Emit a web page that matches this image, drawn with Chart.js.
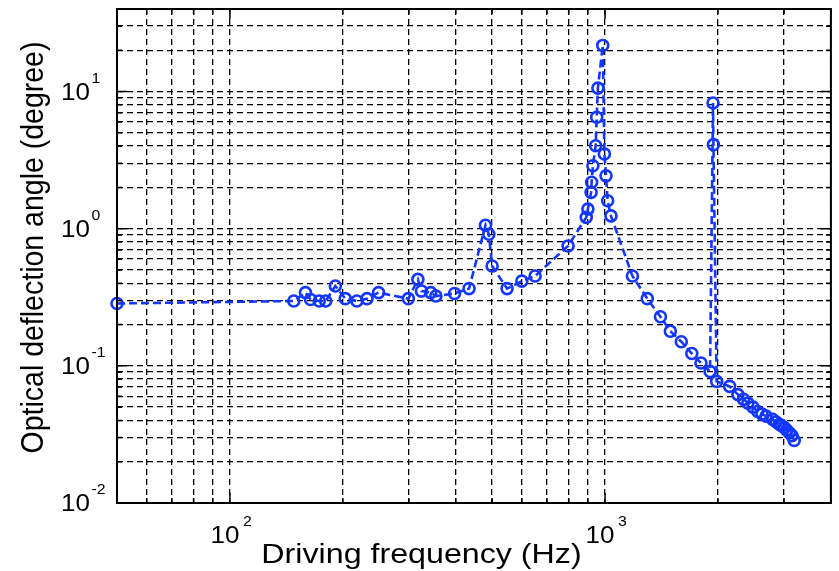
<!DOCTYPE html>
<html>
<head>
<meta charset="utf-8">
<script src="https://cdn.jsdelivr.net/npm/chart.js@4/dist/chart.umd.min.js"></script>
<style>
  html, body { margin: 0; padding: 0; background: #fff; }
  #wrap { width: 839px; height: 571px; position: relative; }
</style>
</head>
<body>
<div id="wrap"><canvas id="chart"></canvas></div>
<script>
// ---- data ----
const freqHz = [50, 148, 159, 164, 173, 180, 191, 203, 218, 232,
  249, 299, 317, 324, 343, 354, 397, 434, 480, 490,
  500, 548, 600, 651, 797, 891, 900, 918, 921, 928,
  944, 950, 957, 986, 996, 1006, 1016, 1037, 1183, 1296,
  1405, 1493, 1597, 1703, 1802, 1905, 1940, 1945, 1984, 2148,
  2261, 2340, 2403, 2480, 2553, 2620, 2686, 2797, 2860, 2915,
  2960, 3005, 3050, 3098, 3150, 3194];
const angleDeg = [0.285, 0.297, 0.342, 0.305, 0.297, 0.297, 0.382, 0.309, 0.297, 0.309,
  0.342, 0.309, 0.427, 0.351, 0.342, 0.323, 0.337, 0.366, 1.06, 0.912,
  0.535, 0.366, 0.415, 0.452, 0.749, 1.21, 1.39, 1.84, 2.18, 2.88,
  4.03, 6.5, 10.6, 21.7, 3.51, 2.43, 1.6, 1.24, 0.452, 0.309,
  0.228, 0.179, 0.150, 0.123, 0.105, 0.091, 8.26, 4.1, 0.077, 0.0709,
  0.0617, 0.057, 0.0535, 0.050, 0.0465, 0.0445, 0.043, 0.0407, 0.039, 0.0375,
  0.0365, 0.0355, 0.034, 0.0325, 0.031, 0.0286];

// axis ranges and labelled decades
const xRange = [50, 4000];
const yRange = [0.01, 40];
const xLabelValues = [100, 1000];
const xLabelExp = ['2', '3'];
const yLabelValues = [0.01, 0.1, 1, 10];
const yLabelExp = ['-2', '-1', '0', '1'];

const xTitle = 'Driving frequency (Hz)';
const yTitle = 'Optical deflection angle (degree)';

// grid lines at every 1..9 x 10^k inside the range
function decadeGrid(lo, hi) {
  const out = [];
  for (let e = Math.floor(Math.log10(lo)); e <= Math.ceil(Math.log10(hi)); e++) {
    for (let m = 1; m <= 9; m++) {
      const v = +(m * Math.pow(10, e)).toPrecision(6);
      if (v >= lo * 0.999 && v <= hi * 1.001) out.push(v);
    }
  }
  return out;
}
const xGrid = decadeGrid(xRange[0], xRange[1]);
const yGrid = decadeGrid(yRange[0], yRange[1]);

const SX = 1.13; // the picture is a bit wider than tall
const FONT = '"Liberation Sans", Arial, sans-serif';
const BLUE = 'rgb(20,55,255)';

function txt(ctx, s, x, y, size, align, rot) {
  ctx.save();
  ctx.translate(x, y);
  ctx.scale(SX, 1);
  if (rot) ctx.rotate(rot);
  ctx.font = size + 'px ' + FONT;
  ctx.textAlign = align;
  ctx.textBaseline = 'alphabetic';
  ctx.fillStyle = '#000';
  ctx.fillText(s, 0, 0);
  ctx.restore();
}

const frame = {
  id: 'frame',
  afterDraw(chart) {
    const { ctx, chartArea: a, scales } = chart;
    const x = scales.x, y = scales.y;
    ctx.save();
    ctx.strokeStyle = '#000';
    ctx.lineWidth = 1.5;
    ctx.beginPath();
    xGrid.forEach(v => {
      const px = x.getPixelForValue(v);
      const len = xLabelValues.includes(v) ? 10 : 5;
      ctx.moveTo(px, a.bottom); ctx.lineTo(px, a.bottom - len);
      ctx.moveTo(px, a.top); ctx.lineTo(px, a.top + len);
    });
    yGrid.forEach(v => {
      const py = y.getPixelForValue(v);
      const len = yLabelValues.includes(v) ? 10 : 5;
      ctx.moveTo(a.left, py); ctx.lineTo(a.left + len, py);
      ctx.moveTo(a.right, py); ctx.lineTo(a.right - len, py);
    });
    ctx.stroke();
    ctx.lineWidth = 2;
    ctx.strokeRect(a.left, a.top, a.right - a.left, a.bottom - a.top);
    ctx.restore();

    // tick labels 10^n
    xLabelValues.forEach((v, i) => {
      const px = x.getPixelForValue(v);
      txt(ctx, '10', px - 5, a.bottom + 40, 23, 'center');
      txt(ctx, xLabelExp[i], px + 13, a.bottom + 23, 14, 'left');
    });
    yLabelValues.forEach((v, i) => {
      const py = y.getPixelForValue(v);
      txt(ctx, '10', a.left - 27, py + 8, 23, 'right');
      txt(ctx, yLabelExp[i], a.left - 25.5, py - 9, 14, 'left');
    });

    // axis titles
    txt(ctx, xTitle, 421.5, 563, 28.5, 'center');
    txt(ctx, yTitle, 43, 247.5, 28.5, 'center', -Math.PI / 2);
  }
};

const points = freqHz.map((f, i) => ({ x: f, y: angleDeg[i] }));

new Chart(document.getElementById('chart'), {
  type: 'scatter',
  data: {
    datasets: [{
      data: points,
      showLine: true,
      borderColor: BLUE,
      borderWidth: 2.6,
      borderDash: [8, 4],
      pointStyle: 'circle',
      pointRadius: 5.5,
      pointBorderWidth: 2.6,
      pointBorderColor: BLUE,
      pointBackgroundColor: 'rgba(0,0,0,0)',
      clip: false
    }]
  },
  options: {
    responsive: true,
    maintainAspectRatio: false,
    animation: false,
    layout: { padding: { left: 117, right: 2, top: 9, bottom: 68 } },
    plugins: { legend: { display: false }, tooltip: { enabled: false } },
    scales: {
      x: {
        type: 'logarithmic',
        min: xRange[0],
        max: xRange[1],
        afterBuildTicks: s => { s.ticks = xGrid.map(v => ({ value: v })); },
        ticks: { display: false },
        grid: { color: '#000', lineWidth: 1.3, drawTicks: false },
        border: { display: false, dash: [6, 4] }
      },
      y: {
        type: 'logarithmic',
        min: yRange[0],
        max: yRange[1],
        afterBuildTicks: s => { s.ticks = yGrid.map(v => ({ value: v })); },
        ticks: { display: false },
        grid: { color: '#000', lineWidth: 1.3, drawTicks: false },
        border: { display: false, dash: [6, 4] }
      }
    }
  },
  plugins: [frame]
});
</script>
</body>
</html>
